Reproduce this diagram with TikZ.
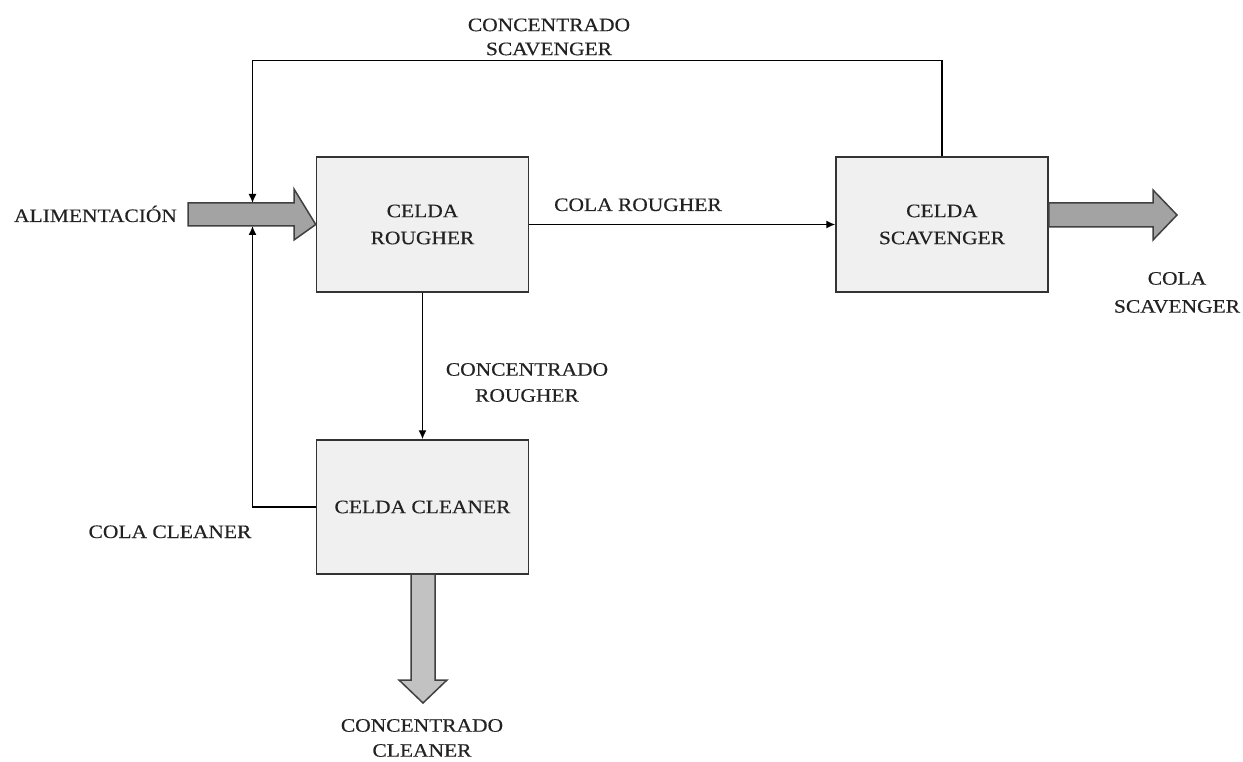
\documentclass[tikz,border=0pt]{standalone}
\usepackage{fontspec}
\setmainfont{Liberation Serif}[FakeStretch=1.13, FakeBold=0.4]
\usetikzlibrary{arrows.meta}
\definecolor{boxfill}{HTML}{F0F0F0}
\definecolor{boxline}{HTML}{333333}
\definecolor{flowfill}{HTML}{A3A3A3}
\definecolor{flowfilltwo}{HTML}{C2C2C2}
\definecolor{flowline}{HTML}{404040}
\definecolor{txt}{HTML}{222222}
\tikzset{
  cell/.style={draw=boxline, fill=boxfill, line width=1.5pt, minimum width=212pt,
    minimum height=135pt, inner sep=0pt, align=center, text=txt,
    font=\fontsize{19}{27}\selectfont},
  lbl/.style={inner sep=0pt, align=center, text=txt, font=\fontsize{19}{26}\selectfont},
  conn/.style={line width=1.4pt, draw=black, -{Latex[length=9pt,width=8pt]}},
  flow/.style={fill=flowfill, draw=flowline, line width=1.5pt, line join=miter},
  flowtwo/.style={fill=flowfilltwo, draw=flowline, line width=1.5pt, line join=miter}
}
\begin{document}
\begin{tikzpicture}[x=1pt,y=-1pt]
\useasboundingbox (0,0) rectangle (1243,762);
% cells
\node[cell] (rougher) at (422.5,224.5) {CELDA\\ROUGHER};
\node[cell] (scavenger) at (942,224.5) {CELDA\\SCAVENGER};
\node[cell, minimum height=134pt] (cleaner) at (422.5,507) {CELDA CLEANER};
% thick flow arrows
\coordinate (feedtop) at (252.5,203);
\coordinate (feedbot) at (252.5,226);
\draw[flow] (188,203) -- (294,203) -- (294,189) -- (rougher.west) -- (294,240) -- (294,226) -- (188,226) -- cycle;
\draw[flow] (scavenger.east |- 0,203) -- (1153,203) -- (1153,190) -- (1177,215) -- (1153,240) -- (1153,227) -- (scavenger.east |- 0,227) -- cycle;
\draw[flowtwo] (411,574) -- (411,680) -- (399,680) -- (423,703) -- (447,680) -- (435,680) -- (435,574) -- cycle;
% connectors
\draw[conn] (rougher.east) -- (scavenger.west);
\draw[conn] (rougher.south) -- (cleaner.north);
\draw[conn] (scavenger.north) -- ++(0,-96) -| (feedtop);
\draw[conn] (cleaner.west) -| (feedbot);
% labels
\node[lbl, anchor=base] (lalim) at (95.5,222) {ALIMENTACIÓN};
\node[lbl, anchor=base] (lcolar) at (638,211) {COLA ROUGHER};
\node[lbl, font=\fontsize{19}{24}\selectfont] (lconcs) at (549,37) {CONCENTRADO\\SCAVENGER};
\node[lbl] (lconcr) at (527,382.5) {CONCENTRADO\\ROUGHER};
\node[lbl, anchor=base] (lcolac) at (170,538) {COLA CLEANER};
\node[lbl, font=\fontsize{19}{28}\selectfont] (lcolas) at (1177,292.5) {COLA\\SCAVENGER};
\node[lbl, font=\fontsize{19}{25}\selectfont] (lconcc) at (422,738) {CONCENTRADO\\CLEANER};
\end{tikzpicture}
\end{document}
